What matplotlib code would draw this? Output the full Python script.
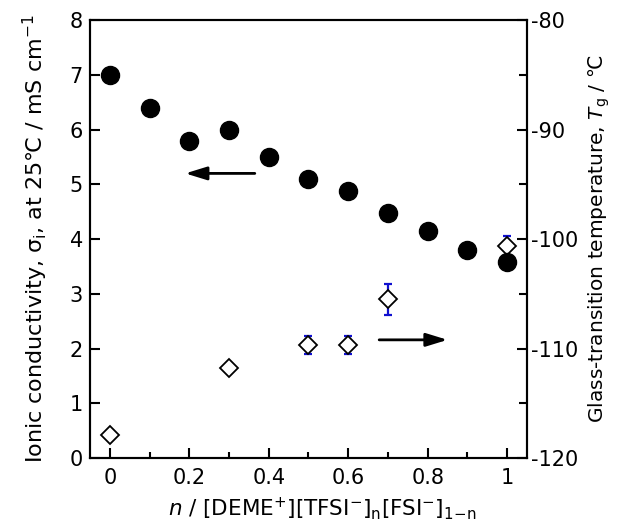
import matplotlib
matplotlib.use("Agg")
import matplotlib.pyplot as plt
from matplotlib.ticker import MultipleLocator, FuncFormatter

plt.rcParams['font.family'] = ['DejaVu Sans']
plt.rcParams['mathtext.fontset'] = 'dejavusans'
plt.rcParams['axes.unicode_minus'] = False

# ionic conductivity at 25 C (left axis)
n_sigma = [0.0, 0.1, 0.2, 0.3, 0.4, 0.5, 0.6, 0.7, 0.8, 0.9, 1.0]
sigma = [7.0, 6.4, 5.8, 6.0, 5.5, 5.1, 4.88, 4.48, 4.15, 3.8, 3.58]

# glass-transition temperature (right axis)
n_tg = [0.0, 0.3, 0.5, 0.6, 0.7, 1.0]
tg = [-117.9, -111.75, -109.65, -109.65, -105.5, -100.65]
tg_err = [0.0, 0.0, 0.8, 0.8, 1.4, 0.9]

fig = plt.figure(figsize=(6.2, 5.29), dpi=100)
ax = fig.add_axes([0.145, 0.134, 0.705, 0.828])
ax2 = ax.twinx()

ax2.errorbar(n_tg, tg, yerr=tg_err, fmt='none', ecolor='#1010d0',
             elinewidth=1.6, capsize=3, capthick=1.6, zorder=1)
ax2.plot(n_tg, tg, 'D', ms=9.5, mfc='white', mec='black', mew=1.3, zorder=2)

ax.plot(n_sigma, sigma, 'o', ms=13, color='black', zorder=3)

# put the conductivity axes in front
ax.set_zorder(ax2.get_zorder() + 1)
ax.patch.set_visible(False)

ax.set_xlim(-0.05, 1.05)
ax.set_ylim(0, 8)
ax2.set_ylim(-120, -80)

ax.xaxis.set_major_locator(MultipleLocator(0.2))
ax.xaxis.set_minor_locator(MultipleLocator(0.1))
ax.xaxis.set_major_formatter(FuncFormatter(lambda v, p: '%g' % round(v, 2)))
ax.yaxis.set_major_locator(MultipleLocator(1))
ax2.yaxis.set_major_locator(MultipleLocator(10))
ax2.yaxis.set_minor_locator(MultipleLocator(5))

for a in (ax, ax2):
    for s in a.spines.values():
        s.set_linewidth(1.5)
ax.tick_params(axis='both', which='major', direction='in', length=7, width=1.5,
               labelsize=15, top=False, right=False, pad=5)
ax.tick_params(axis='x', which='major', pad=7)
ax.tick_params(axis='x', which='minor', direction='in', length=4.5, width=1.5,
               top=False)
ax2.tick_params(axis='y', which='major', direction='in', length=7, width=1.5,
                labelsize=15, pad=3)
ax2.tick_params(axis='y', which='minor', direction='in', length=5.5, width=1.5)

ax.set_xlabel(r'$n$ / [DEME$^{+}$][TFSI$^{-}$]$_{\mathrm{n}}$[FSI$^{-}$]$_{\mathrm{1\!-\!n}}$',
              fontsize=15.5, labelpad=8)
ax.xaxis.set_label_coords(0.532, -0.085)
ax.set_ylabel('Ionic conductivity, $\\mathrm{\\sigma_{i}}$, at 25\u2103 / mS cm$^{-1}$',
              fontsize=16, labelpad=14)
ax2.set_ylabel('Glass-transition temperature, $T_{\\mathrm{g}}$ / \u2103',
               fontsize=14.5, labelpad=6)

# direction arrows
head = '-|>,head_length=1.3,head_width=0.4'
ax.annotate('', xy=(0.19, 5.2), xytext=(0.365, 5.2),
            arrowprops=dict(arrowstyle=head, lw=2, color='black',
                            shrinkA=0, shrinkB=0))
ax2.annotate('', xy=(0.85, -109.2), xytext=(0.678, -109.2),
             arrowprops=dict(arrowstyle=head, lw=2, color='black',
                             shrinkA=0, shrinkB=0))

fig.savefig('out.png', dpi=100)
